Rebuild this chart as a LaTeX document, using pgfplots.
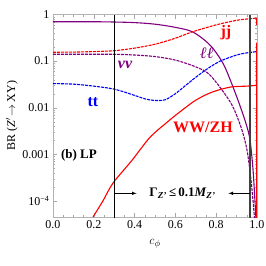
\documentclass[border=0pt]{standalone}
\usepackage{pgfplots}
\pgfplotsset{compat=1.18}
\usepackage{fontspec}
\setmainfont{Liberation Serif}
\definecolor{mpurple}{rgb}{0.5,0,0.5}
\begin{document}
\begin{tikzpicture}[x=1pt,y=1pt]
\useasboundingbox (0,0) rectangle (266,266);
\begin{axis}[
  at={(53pt,49pt)}, anchor=south west,
  scale only axis, width=204pt, height=202.5pt,
  ymode=log, xmin=0, xmax=1, ymin=4.5e-5, ymax=1,
  axis line style={gray!60},
  tick style={gray!70},
  major tick length=4pt, minor tick length=2pt,
  xtick={0,0.2,0.4,0.6,0.8,1},
  xticklabels={0.0,0.2,0.4,0.6,0.8,1.0},
  minor x tick num=3,
  ytick={1e-4,1e-3,1e-2,1e-1,1},
  yticklabels={10\textsuperscript{−4},0.001,0.01,0.1,1},
  tick label style={font=\fontsize{12}{12}\selectfont, black},
  ylabel={BR (\textit{Z}$'$\,$\rightarrow$\,XY)},
  ylabel style={font=\fontsize{12}{12}\selectfont, yshift=-2pt},
  xlabel={$c_\phi$},
  xlabel style={font=\fontsize{13}{13}\selectfont, yshift=-4pt},
  clip=true,
]
% ll (purple solid)
\addplot[mpurple, line width=1.1pt, smooth] coordinates {
(0,0.70)(0.1,0.70)(0.2,0.70)(0.3,0.69)(0.4,0.67)(0.5,0.62)(0.6,0.53)(0.686,0.42)(0.77,0.22)(0.833,0.09)(0.877,0.032)(0.92,0.01)(0.95,0.004)(0.966,0.002)(0.98,5e-4)(0.99,1e-4)(0.995,4e-5)};
% nu nu (purple dashed)
\addplot[mpurple, line width=1.1pt, smooth, dash pattern=on 3pt off 1pt] coordinates {
(0,0.14)(0.1,0.14)(0.2,0.14)(0.3,0.14)(0.4,0.135)(0.5,0.125)(0.6,0.105)(0.7,0.075)(0.77,0.05)(0.87,0.013)(0.92,0.004)(0.95,0.0013)(0.97,3e-4)(0.985,6e-5)(0.99,3e-5)};
% jj (red dashed)
\addplot[red, line width=1.1pt, smooth, dash pattern=on 3pt off 1pt] coordinates {
(0,0.155)(0.1,0.156)(0.2,0.16)(0.3,0.167)(0.4,0.19)(0.5,0.23)(0.6,0.31)(0.68,0.42)(0.8,0.6)(0.9,0.75)(0.95,0.8)(0.99,0.83)(0.998,0.84)};
\addplot[red, line width=1.1pt] coordinates {(0.998,0.84)(0.999,0.6)};
% tt (blue dashed)
\addplot[blue, line width=1.1pt, smooth, dash pattern=on 3pt off 1pt] coordinates {
(0,0.033)(0.1,0.032)(0.2,0.029)(0.3,0.025)(0.39,0.019)(0.45,0.0155)(0.5,0.0143)(0.55,0.0148)(0.6,0.02)(0.65,0.03)(0.7,0.045)(0.76,0.07)(0.82,0.1)(0.9,0.135)(0.946,0.149)(1,0.16)};
% WW/ZH (red solid)
\addplot[red, line width=1.1pt, smooth] coordinates {
(0.196,4.5e-5)(0.245,1e-4)(0.294,2.4e-4)(0.387,7.4e-4)(0.475,2.3e-3)(0.56,4.9e-3)(0.62,8e-3)(0.70,0.0145)(0.78,0.0216)(0.87,0.0277)(0.95,0.029)(0.99,0.03)};
\addplot[red, line width=1.1pt] coordinates {(0.99,0.03)(0.997,0.03)(0.999,0.25)(0.999,4e-5)};
% width bounds
\addplot[black, line width=0.9pt] coordinates {(0.3,4e-5)(0.3,1)};
\addplot[black!75, line width=1.3pt] coordinates {(0.966,4e-5)(0.966,1)};
\draw[-latex, line width=0.6pt] (axis cs:0.3,1.45e-4) -- (axis cs:0.41,1.45e-4);
\draw[-latex, line width=0.6pt] (axis cs:0.966,1.45e-4) -- (axis cs:0.86,1.45e-4);
\node[font=\fontsize{13}{13}\selectfont\bfseries] at (axis cs:0.635,1.45e-4) {Γ\textsubscript{\itshape Z'}\,≤\,0.1\textit{M}\textsubscript{\itshape Z'}};
\node[red, font=\fontsize{16}{16}\selectfont\bfseries] at (axis cs:0.848,0.40) {jj};
\node[mpurple, font=\fontsize{16}{16}\selectfont\bfseries\itshape] at (axis cs:0.755,0.149) {ℓℓ};
\node[mpurple, font=\fontsize{16}{16}\selectfont\bfseries\itshape] at (axis cs:0.353,0.082) {νν};
\node[blue, font=\fontsize{16}{16}\selectfont\bfseries] at (axis cs:0.196,0.013) {tt};
\node[red, font=\fontsize{16}{16}\selectfont\bfseries] at (axis cs:0.735,0.0038) {WW/ZH};
\node[font=\fontsize{13}{13}\selectfont\bfseries] at (axis cs:0.127,9.5e-4) {(b) LP};
\end{axis}
\end{tikzpicture}
\end{document}
